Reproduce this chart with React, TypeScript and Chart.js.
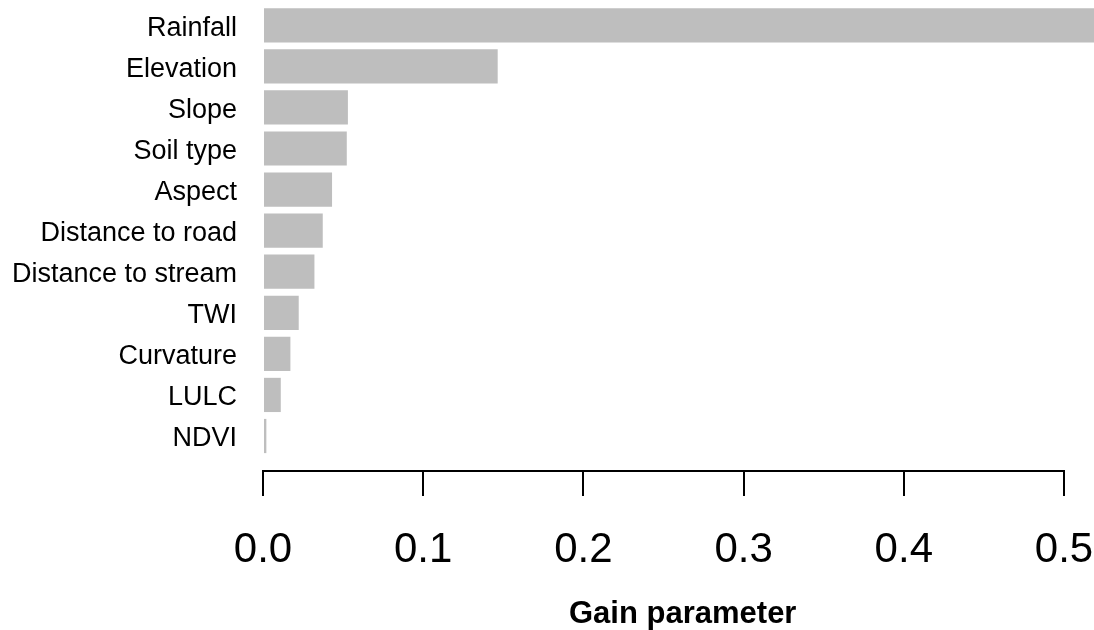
import { useEffect, useRef } from "react";
import { Chart, registerables } from "chart.js";

Chart.register(...registerables);

const categories = [
  "Rainfall",
  "Elevation",
  "Slope",
  "Soil type",
  "Aspect",
  "Distance to road",
  "Distance to stream",
  "TWI",
  "Curvature",
  "LULC",
  "NDVI",
];
const gain = [0.524, 0.1465, 0.053, 0.0523, 0.0431, 0.0373, 0.0321, 0.0223, 0.0171, 0.0111, 0.0021];
const xTicks = [0, 0.1, 0.2, 0.3, 0.4, 0.5];
const xTickLabels = ["0.0", "0.1", "0.2", "0.3", "0.4", "0.5"];
const axisTitle = "Gain parameter";

const FONT = '"Liberation Sans", Arial, Helvetica, sans-serif';

const titlePlugin = {
  id: "xTitleR",
  afterDraw(chart: any) {
    const { ctx } = chart;
    const x = chart.scales.x;
    ctx.save();
    ctx.font = `bold 31px ${FONT}`;
    ctx.fillStyle = "#000";
    ctx.textAlign = "center";
    ctx.textBaseline = "alphabetic";
    ctx.fillText(axisTitle, x.getPixelForValue(Math.max(...gain) / 2), x.bottom - 7);
    ctx.restore();
  },
};

export default function App() {
  const ref = useRef<HTMLCanvasElement | null>(null);

  useEffect(() => {
    if (!ref.current) return;
    const chart = new Chart(ref.current, {
      type: "bar",
      data: {
        datasets: [
          {
            data: gain.map((v, i) => ({ x: v, y: i })),
            backgroundColor: "#BEBEBE",
            borderWidth: 0,
            barPercentage: 1 / 1.2,
            categoryPercentage: 1,
            clip: false as any,
          },
        ],
      },
      options: {
        indexAxis: "y",
        animation: false,
        responsive: false,
        layout: { padding: { left: 0, right: 30, top: 0, bottom: 0 } },
        plugins: {
          legend: { display: false },
          tooltip: { enabled: false },
          title: { display: false },
        },
        scales: {
          x: {
            type: "linear",
            position: "bottom",
            min: 0,
            max: 0.5,
            offset: false,
            afterBuildTicks: (s: any) => {
              s.ticks = xTicks.map((v) => ({ value: v }));
            },
            afterFit: (s: any) => {
              s.height = 159;
              s.paddingLeft = 0;
              s.paddingRight = 0;
            },
            grid: {
              display: true,
              drawOnChartArea: false,
              drawTicks: true,
              tickLength: 25,
              color: "#000",
              lineWidth: 2,
            },
            border: { display: true, color: "#000", width: 2 },
            ticks: {
              padding: 29,
              color: "#000",
              autoSkip: false,
              maxRotation: 0,
              font: { family: FONT, size: 42 },
              callback: (_v: any, i: number) => xTickLabels[i],
            },
          },
          y: {
            type: "linear",
            reverse: true,
            offset: false,
            min: -0.616,
            max: 10.852,
            afterBuildTicks: (s: any) => {
              s.ticks = categories.map((_, i) => ({ value: i }));
            },
            afterFit: (s: any) => {
              s.width = 263;
              s.paddingTop = 0;
              s.paddingBottom = 0;
            },
            grid: { display: false, drawTicks: true, tickLength: 26, offset: false },
            border: { display: false },
            ticks: {
              padding: 0,
              color: "#000",
              autoSkip: false,
              labelOffset: 3,
              font: { family: FONT, size: 27 },
              callback: (v: any) => categories[Math.round(Number(v))],
            },
          },
        },
      } as any,
      plugins: [titlePlugin],
    });
    return () => chart.destroy();
  }, []);

  return (
    <div style={{ position: "fixed", left: 0, top: 0, width: 1094, height: 630, background: "#fff" }}>
      <canvas ref={ref} width={1094} height={630} style={{ display: "block" }} />
    </div>
  );
}
